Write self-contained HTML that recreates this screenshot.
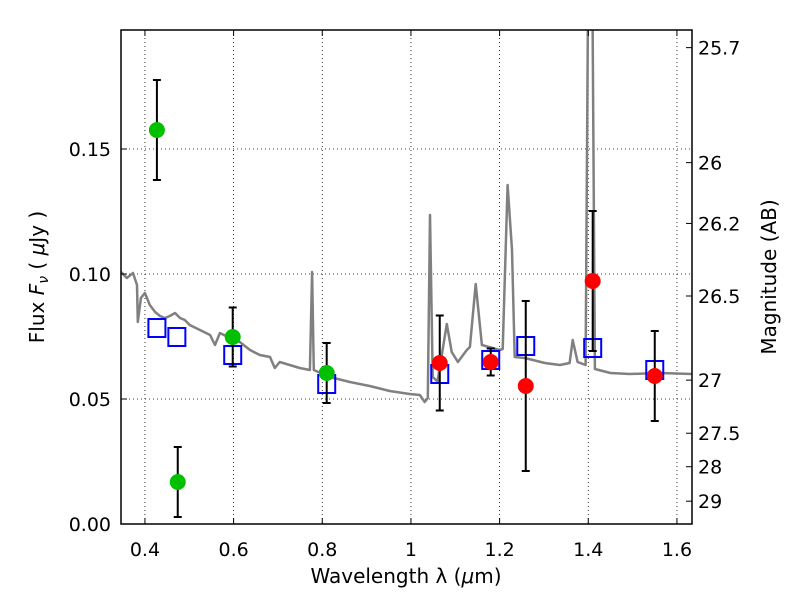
<!DOCTYPE html>
<html><head><meta charset="utf-8"><style>
body{margin:0;background:#fff;}
svg text{font-family:"DejaVu Sans","Liberation Sans",sans-serif;fill:#000;}
</style></head><body>
<svg id="chart" width="800" height="600" xmlns="http://www.w3.org/2000/svg">
<defs><clipPath id="clip"><rect x="121" y="30" width="571" height="494"/></clipPath></defs>
<g id="grid"></g>
<g id="spec" clip-path="url(#clip)"></g>
<g id="marks" clip-path="url(#clip)"></g>
<rect x="121" y="30" width="571" height="494" fill="none" stroke="#000" stroke-width="1.5"/>
<g id="axes"></g>
<text x="406" y="583" font-size="20" text-anchor="middle">Wavelength  λ (<tspan font-style="italic">μ</tspan>m)</text>
<text transform="translate(44,277) rotate(-90)" font-size="20" text-anchor="middle">Flux  <tspan font-style="italic">F</tspan><tspan font-style="italic" font-size="14" dy="4">ν</tspan><tspan dy="-4">  ( </tspan><tspan font-style="italic">μ</tspan>Jy )</text>
<text transform="translate(776,277) rotate(-90)" font-size="20" text-anchor="middle">Magnitude (AB)</text>
</svg>
<script>
const specLam=[0.346,0.359,0.373,0.382,0.384,0.391,0.400,0.411,0.423,0.434,0.445,0.456,0.468,0.479,0.490,0.501,0.524,0.547,0.558,0.569,0.592,0.614,0.637,0.659,0.682,0.693,0.704,0.749,0.772,0.777,0.781,0.817,0.862,0.907,0.952,0.997,1.020,1.031,1.038,1.043,1.049,1.060,1.081,1.092,1.106,1.126,1.133,1.146,1.160,1.200,1.207,1.218,1.228,1.234,1.257,1.302,1.336,1.358,1.365,1.376,1.394,1.401,1.408,1.415,1.450,1.494,1.562,1.634];
const specFlux=[0.1008,0.0984,0.1004,0.0956,0.0808,0.0904,0.0924,0.0876,0.0848,0.0832,0.0824,0.0832,0.0844,0.0824,0.0816,0.0796,0.0776,0.0756,0.0716,0.0764,0.0744,0.0728,0.0696,0.0676,0.0668,0.0624,0.0648,0.0624,0.0616,0.1008,0.0616,0.0588,0.0568,0.0552,0.0532,0.052,0.0516,0.0488,0.0504,0.1236,0.0588,0.057,0.080,0.0688,0.0648,0.0696,0.0708,0.096,0.0716,0.0696,0.070,0.1356,0.1096,0.0668,0.0664,0.0644,0.0636,0.0644,0.0736,0.0648,0.0636,0.25,0.25,0.062,0.0604,0.060,0.0604,0.060];
const greenLam=[0.427,0.474,0.598,0.810];
const greenFlux=[0.1576,0.0168,0.0748,0.0604];
const greenErr=[0.02,0.014,0.0118,0.012];
const redLam=[1.065,1.180,1.259,1.410,1.550];
const redFlux=[0.0644,0.0648,0.0552,0.0972,0.0592];
const redErr=[0.019,0.0054,0.034,0.028,0.018];
const boxLam=[0.427,0.472,0.598,0.810,1.065,1.180,1.259,1.410,1.550];
const boxFlux=[0.0784,0.0748,0.0676,0.056,0.060,0.0656,0.0712,0.0704,0.0616];
const xTicks=[0.4,0.6,0.8,1.0,1.2,1.4,1.6];
const xTickLabels=["0.4","0.6","0.8","1","1.2","1.4","1.6"];
const yTicks=[0,0.05,0.10,0.15];
const yTickLabels=["0.00","0.05","0.10","0.15"];
const magTicks=[25.7,26,26.2,26.5,27,27.5,28,29];
const magLabels=["25.7","26","26.2","26.5","27","27.5","28","29"];

const X0=121,X1=692,Y0=524,Y1=30,LMIN=0.346,LMAX=1.634,FMAX=0.1976;
const xs=l=>X0+(l-LMIN)/(LMAX-LMIN)*(X1-X0);
const ys=f=>Y0-f/FMAX*(Y0-Y1);
const magToFlux=m=>Math.pow(10,(23.9-m)/2.5);
const NS="http://www.w3.org/2000/svg";
function mk(tag,parent,attrs){const e=document.createElementNS(NS,tag);for(const k in attrs)e.setAttribute(k,attrs[k]);parent.appendChild(e);return e;}
const grid=document.getElementById('grid'),spec=document.getElementById('spec'),marks=document.getElementById('marks'),axes=document.getElementById('axes');

xTicks.forEach((t,i)=>{const x=xs(t);
 const g=mk('line',grid,{x1:x,x2:x,y1:Y1,y2:Y0,stroke:'#000','stroke-width':0.8,'stroke-dasharray':'1,3'});
 
 
 mk('line',axes,{x1:x,x2:x,y1:Y0,y2:Y0-6,stroke:'#000'});
 mk('line',axes,{x1:x,x2:x,y1:Y1,y2:Y1+6,stroke:'#000'});
 const tx=mk('text',axes,{x:x,y:556,'font-size':19,'text-anchor':'middle'});tx.textContent=xTickLabels[i];
 
 
});
yTicks.forEach((t,i)=>{const y=ys(t);
 const g=mk('line',grid,{x1:X0,x2:X1,y1:y,y2:y,stroke:'#000','stroke-width':0.8,'stroke-dasharray':'1,3'});
 
 
 mk('line',axes,{x1:X0,x2:X0+6,y1:y,y2:y,stroke:'#000'});
 const tx=mk('text',axes,{x:111,y:y+7,'font-size':19,'text-anchor':'end'});tx.textContent=yTickLabels[i];
 
 
});
magTicks.forEach((m,i)=>{const y=ys(magToFlux(m));
 mk('line',axes,{x1:X1,x2:X1-6,y1:y,y2:y,stroke:'#000'});
 const tx=mk('text',axes,{x:698,y:y+7,'font-size':19});tx.textContent=magLabels[i];
 
 
});

const d=specLam.map((l,i)=>(i?'L':'M')+xs(l).toFixed(1)+','+ys(specFlux[i]).toFixed(1)).join('');
const p=mk('path',spec,{d:d,fill:'none',stroke:'#808080','stroke-width':2.5,'stroke-linejoin':'round'});



boxLam.forEach((l,i)=>{const x=xs(l),y=ys(boxFlux[i]);
 const r=mk('rect',marks,{x:x-8.5,y:y-9,width:17,height:18,fill:'none',stroke:'#0000ff','stroke-width':2});
 
 
});
function errPoint(l,f,e,color,name){const x=xs(l),y=ys(f),yt=ys(f+e),yb=ys(f-e);
 mk('line',marks,{x1:x,x2:x,y1:yt,y2:yb,stroke:'#000','stroke-width':2});
 mk('line',marks,{x1:x-4,x2:x+4,y1:yt,y2:yt,stroke:'#000','stroke-width':2});
 mk('line',marks,{x1:x-4,x2:x+4,y1:yb,y2:yb,stroke:'#000','stroke-width':2});
 const c=mk('circle',marks,{cx:x,cy:y,r:8,fill:color});
 
 
}
greenLam.forEach((l,i)=>errPoint(l,greenFlux[i],greenErr[i],'#00c000','optical-data-point'));
redLam.forEach((l,i)=>errPoint(l,redFlux[i],redErr[i],'#ff0000','nir-data-point'));
</script>
</body></html>
